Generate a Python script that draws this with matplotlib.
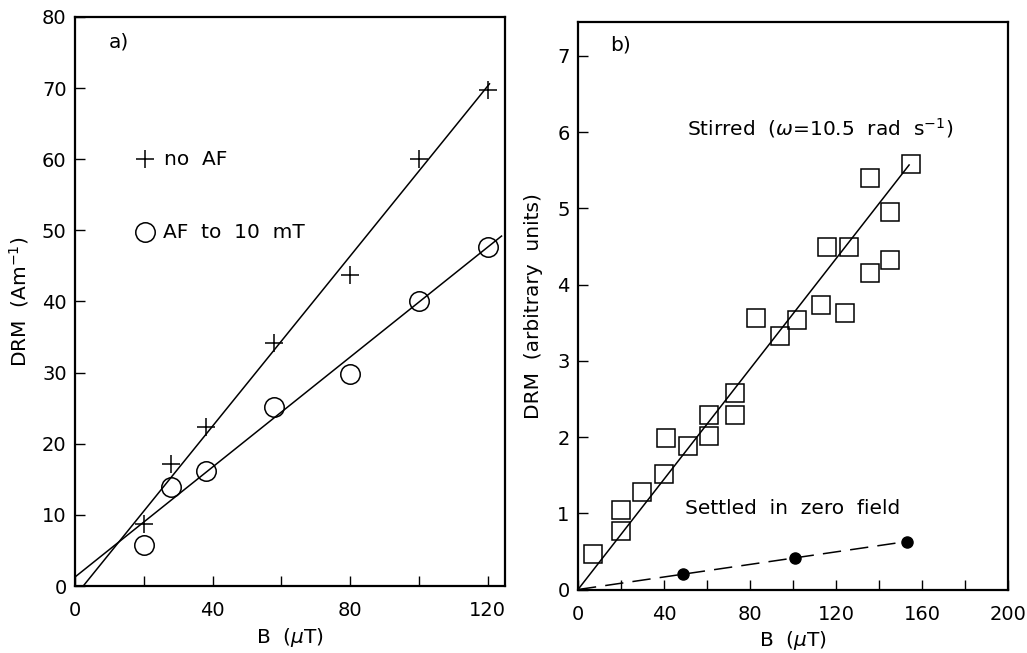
import numpy as np
import matplotlib
matplotlib.use('Agg')
from matplotlib import pyplot as plt

# panel a) DRM vs field
b_plus = [20, 28, 38, 58, 80, 100, 120]
drm_plus = [8.7, 17.2, 22.4, 34.2, 43.7, 60.1, 69.8]
b_circ = [20, 28, 38, 58, 80, 100, 120]
drm_circ = [5.7, 13.9, 16.2, 25.1, 29.8, 40.1, 47.7]
fit_plus_b = [2.4, 120.5]
fit_plus_drm = [0.0, 70.6]
fit_circ_b = [0.0, 124.0]
fit_circ_drm = [1.26, 49.2]

# panel b) stirred / settled
b_stir = [7, 20, 20, 30, 40, 41, 51, 61, 61, 73, 73, 83, 94, 102, 113, 124, 116, 126, 136, 136, 145, 145, 155]
drm_stir = [0.47, 1.04, 0.77, 1.28, 1.52, 1.99, 1.88, 2.02, 2.29, 2.29, 2.58, 3.56, 3.33, 3.54, 3.73, 3.63,
            4.50, 4.50, 5.40, 4.15, 4.95, 4.32, 5.58]
fit_stir_b = [0, 154]
fit_stir_drm = [0, 5.57]
b_settle = [49, 101, 153]
drm_settle = [0.20, 0.42, 0.63]
fit_settle_b = [0, 153]
fit_settle_drm = [0, 0.63]

plt.rcParams['font.family'] = 'DejaVu Sans'
plt.rcParams['mathtext.fontset'] = 'dejavusans'
fs = 14.5

fig = plt.figure(figsize=(10.27, 6.53), dpi=100)
ax1 = fig.add_axes([0.073, 0.1026, 0.4187, 0.8714])
ax2 = fig.add_axes([0.5628, 0.0972, 0.4187, 0.8696])

for ax in (ax1, ax2):
    for s in ax.spines.values():
        s.set_linewidth(1.6)
    ax.tick_params(which='both', direction='in', length=7, width=1.0, labelsize=14)
    ax.tick_params(axis='x', pad=11)
    ax.tick_params(axis='y', pad=6)

ax = ax1
ax.plot(fit_plus_b, fit_plus_drm, 'k-', lw=1.1)
ax.plot(fit_circ_b, fit_circ_drm, 'k-', lw=1.1)
ax.plot(b_plus, drm_plus, 'k+', ms=13, mew=1.1, ls='none')
ax.plot(b_circ, drm_circ, 'o', mfc='none', mec='k', ms=14, mew=1.1, ls='none')
ax.plot([20.4], [60], 'k+', ms=13, mew=1.1)
ax.plot([20.4], [49.7], 'o', mfc='none', mec='k', ms=14, mew=1.1)
ax.text(26, 60, 'no  AF', va='center', fontsize=fs)
ax.text(25.5, 49.7, 'AF  to  10  mT', va='center', fontsize=fs)
ax.text(9.8, 76.5, 'a)', va='center', fontsize=fs)
ax.set_xlim(0, 125)
ax.set_ylim(0, 80)
ax.set_xticks(np.arange(0, 121, 40))
ax.set_xticks(np.arange(0, 121, 20), minor=True)
ax.set_yticks(np.arange(0, 81, 10))
ax.set_xlabel(r'B  ($\mu$T)', fontsize=fs, labelpad=4)
ax.set_ylabel(r'DRM  (Am$^{-1}$)', fontsize=fs, labelpad=8)

ax = ax2
ax.plot(fit_stir_b, fit_stir_drm, 'k-', lw=1.1)
ax.plot(fit_settle_b, fit_settle_drm, 'k', lw=1.1, dashes=(12, 6))
ax.plot(b_stir, drm_stir, 's', mfc='none', mec='k', ms=13, mew=1.1, ls='none')
ax.plot(b_settle, drm_settle, 'ko', ms=8, ls='none')
ax.text(50.5, 6.05, r'Stirred  ($\omega$=10.5  rad  s$^{-1}$)', va='center', fontsize=fs)
ax.text(50, 1.06, 'Settled  in  zero  field', va='center', fontsize=fs)
ax.text(15, 7.14, 'b)', va='center', fontsize=fs)
ax.set_xlim(0, 200)
ax.set_ylim(0, 7.45)
ax.set_xticks(np.arange(0, 201, 40))
ax.set_xticks(np.arange(0, 201, 20), minor=True)
ax.set_yticks(np.arange(0, 8, 1))
ax.set_xlabel(r'B  ($\mu$T)', fontsize=fs, labelpad=4)
ax.set_ylabel('DRM  (arbitrary  units)', fontsize=fs, labelpad=10)

fig.savefig('out.png', dpi=100)
